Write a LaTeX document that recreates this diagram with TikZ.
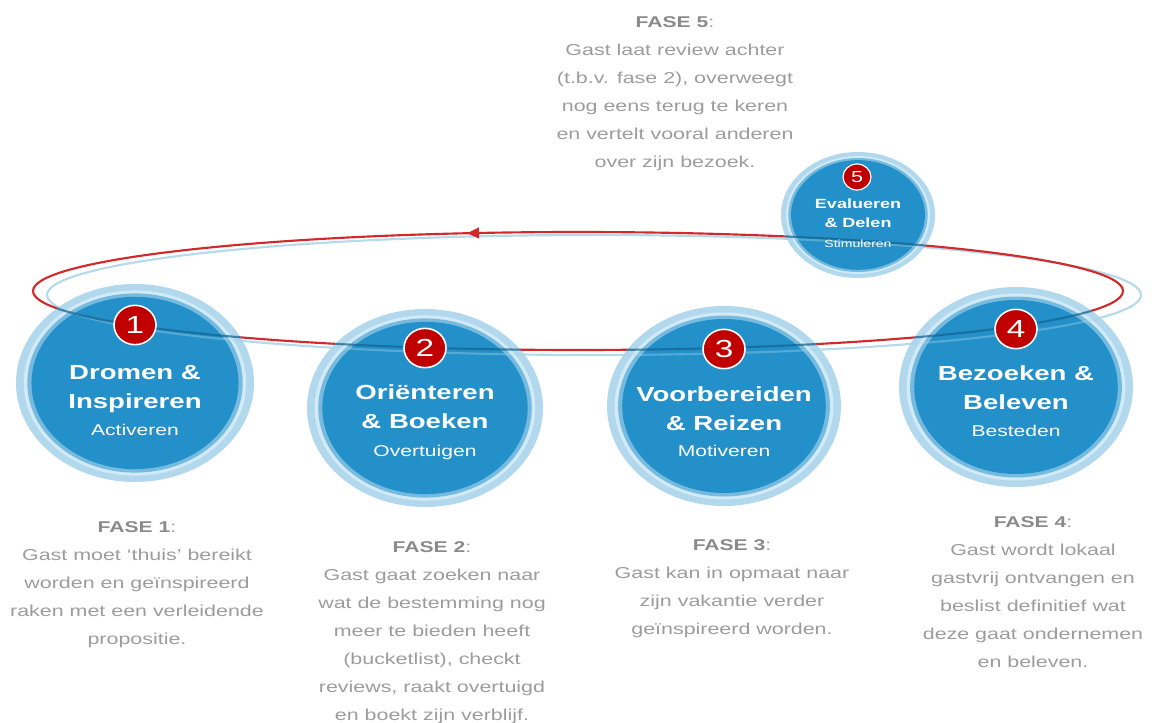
\documentclass[tikz,border=0pt]{standalone}
\usepackage{fontspec}
\setmainfont{Liberation Sans}
\usepackage{graphicx}
\usetikzlibrary{shapes.geometric,arrows.meta,decorations.markings}
\definecolor{ringA}{HTML}{A9D4EA}
\definecolor{ringB}{HTML}{D6EDF7}
\definecolor{ringC}{HTML}{6DB6DD}
\definecolor{mainblue}{HTML}{1A8CC7}
\definecolor{badgered}{HTML}{C00000}
\definecolor{loopred}{HTML}{D22A2A}
\definecolor{loopblue}{HTML}{B4DAEC}
\definecolor{shadowline}{HTML}{15628F}
\definecolor{headgray}{HTML}{8A8A8A}
\definecolor{txtgray}{HTML}{9C9C9C}
\newcommand{\sx}[1]{\scalebox{1.35}[1]{\begin{tabular}{@{}c@{}}#1\end{tabular}}}
\newcommand{\hd}[1]{{\bfseries\color{headgray}\fontsize{11.7pt}{21pt}\selectfont #1}}
% name, x, y, rx, ry (px)
\newcommand{\bubble}[5]{%
  \node[ellipse, inner sep=0pt, fill=ringA, fill opacity=0.9,
        minimum width={1.5pt*#4}, minimum height={1.5pt*#5}] (#1) at (#2,#3) {};
  \fill[ringB, opacity=0.9] (#1.center) ellipse [x radius={0.935*#4}, y radius={0.935*#5}];
  \fill[ringC, opacity=0.9] (#1.center) ellipse [x radius={0.905*#4}, y radius={0.905*#5}];
  \fill[mainblue, opacity=0.9] (#1.center) ellipse [x radius={0.87*#4}, y radius={0.87*#5}];
}
\tikzset{
  badge/.style={ellipse, inner sep=0pt, fill=badgered, draw=white, line width=1.2pt,
    text=white, font=\fontsize{18.5pt}{20pt}\selectfont, minimum width=31.5pt, minimum height=29.5pt},
  badgesmall/.style={badge, line width=0.9pt, font=\fontsize{12pt}{13pt}\selectfont,
    minimum width=21pt, minimum height=19.5pt},
  title/.style={inner sep=0pt, text=white, font=\bfseries\fontsize{15.3pt}{21.5pt}\selectfont},
  sub/.style={inner sep=0pt, text=white, font=\fontsize{11.7pt}{14pt}\selectfont},
  title5/.style={inner sep=0pt, text=white, font=\bfseries\fontsize{10pt}{14.25pt}\selectfont},
  sub5/.style={inner sep=0pt, text=white, font=\fontsize{7.8pt}{9pt}\selectfont},
  desc/.style={inner sep=0pt, text=txtgray, font=\fontsize{11.9pt}{21pt}\selectfont},
  loop/.style={line width=1.6pt},
}
\begin{document}
\begin{tikzpicture}[x=0.75pt, y=0.75pt]
\useasboundingbox (0,0) rectangle (1152,722);
% loops
\draw[loop, loopblue] (594,427) ellipse [x radius=547, y radius=60];
\draw[loop, loopred, postaction={decorate},
  decoration={markings, mark=at position 0.3 with {\arrow{Triangle[length=9pt,width=8pt]}}}]
  (578,431) ellipse [x radius=545, y radius=59];
% bubbles
\bubble{c1}{135}{339}{119}{99}
\bubble{c2}{425}{314}{118}{99}
\bubble{c3}{724}{316}{117}{100}
\bubble{c4}{1016}{335}{117}{100}
\bubble{c5}{858}{507}{77}{63}
% loop seen through the bubbles
\begin{scope}
  \clip (c1.center) ellipse [x radius=119, y radius=99]
        (c2.center) ellipse [x radius=118, y radius=99]
        (c3.center) ellipse [x radius=117, y radius=100]
        (c4.center) ellipse [x radius=117, y radius=100]
        (c5.center) ellipse [x radius=77, y radius=63];
  \draw[loop, loopblue, opacity=0.35] (594,427) ellipse [x radius=547, y radius=60];
  \draw[loop, shadowline, opacity=0.7] (578,431) ellipse [x radius=545, y radius=59];
\end{scope}
% badges and labels
\node[badge] (b1) at (135,397) {\scalebox{1.35}[1]{1}};
\node[title] (t1) at (135,334) {\sx{Dromen \&\\Inspireren}};
\node[sub] (s1) at (135,290) {\sx{Activeren}};

\node[badge] (b2) at (425,374) {\scalebox{1.35}[1]{2}};
\node[title] (t2) at (425,313.5) {\sx{Oriënteren\\\& Boeken}};
\node[sub] (s2) at (425,269) {\sx{Overtuigen}};

\node[badge] (b3) at (724,373) {\scalebox{1.35}[1]{3}};
\node[title] (t3) at (724,312) {\sx{Voorbereiden\\\& Reizen}};
\node[sub] (s3) at (724,269) {\sx{Motiveren}};

\node[badge] (b4) at (1016,393) {\scalebox{1.35}[1]{4}};
\node[title] (t4) at (1016,333) {\sx{Bezoeken \&\\Beleven}};
\node[sub] (s4) at (1016,289) {\sx{Besteden}};

\node[badgesmall] (b5) at (857,545) {\scalebox{1.35}[1]{5}};
\node[title5] (t5) at (858,507.5) {\sx{Evalueren\\\& Delen}};
\node[sub5] (s5) at (858,477) {\sx{Stimuleren}};
% descriptions
\node[desc] (f1) at (137,139) {\sx{\hd{FASE 1}:\\Gast moet ‘thuis’ bereikt\\worden en geïnspireerd\\raken met een verleidende\\propositie.}};
\node[desc] (f2) at (432,91) {\sx{\hd{FASE 2}:\\Gast gaat zoeken naar\\wat de bestemming nog\\meer te bieden heeft\\(bucketlist), checkt\\reviews, raakt overtuigd\\en boekt zijn verblijf.}};
\node[desc] (f3) at (732,135) {\sx{\hd{FASE 3}:\\Gast kan in opmaat naar\\zijn vakantie verder\\geïnspireerd worden.}};
\node[desc] (f4) at (1033,130) {\sx{\hd{FASE 4}:\\Gast wordt lokaal\\gastvrij ontvangen en\\beslist definitief wat\\deze gaat ondernemen\\en beleven.}};
\node[desc] (f5) at (675,630) {\sx{\hd{FASE 5}:\\Gast laat review achter\\(t.b.v. fase 2), overweegt\\nog eens terug te keren\\en vertelt vooral anderen\\over zijn bezoek.}};
\end{tikzpicture}
\end{document}
